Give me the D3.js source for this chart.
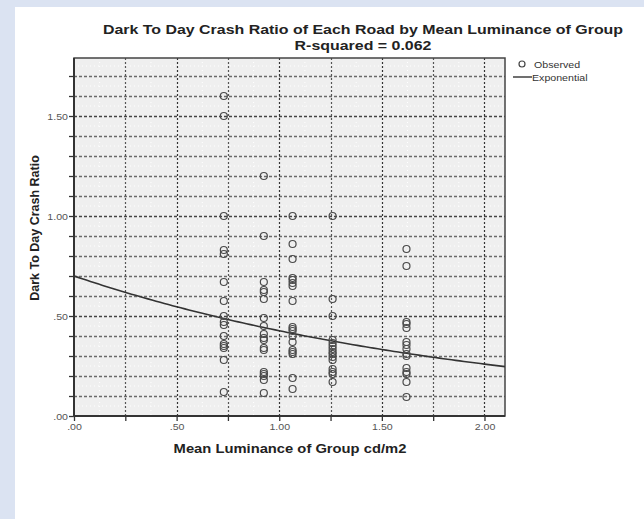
<!DOCTYPE html>
<html><head><meta charset="utf-8">
<script src="https://cdn.jsdelivr.net/npm/d3@7"></script>
<style>html,body{margin:0;padding:0;background:#dbe3f2;}svg{display:block;}</style>
</head><body>
<svg id="c" width="644" height="519"></svg>
<script>
// ---- data ----
const groupX = [0.73, 0.925, 1.065, 1.26, 1.62];
const ratioGroup1 = [1.60, 1.50, 1.00, 0.83, 0.81, 0.67, 0.575, 0.50, 0.47, 0.455, 0.40, 0.36, 0.35, 0.34, 0.28, 0.12];
const ratioGroup2 = [1.20, 0.90, 0.67, 0.63, 0.62, 0.585, 0.49, 0.45, 0.41, 0.39, 0.38, 0.34, 0.33, 0.22, 0.21, 0.20, 0.18, 0.115];
const ratioGroup3 = [1.00, 0.86, 0.785, 0.69, 0.68, 0.665, 0.65, 0.575, 0.445, 0.435, 0.425, 0.40, 0.37, 0.33, 0.32, 0.31, 0.19, 0.135];
const ratioGroup4 = [1.00, 0.585, 0.50, 0.38, 0.365, 0.35, 0.335, 0.32, 0.31, 0.295, 0.28, 0.235, 0.22, 0.21, 0.17];
const ratioGroup5 = [0.835, 0.75, 0.47, 0.46, 0.44, 0.37, 0.355, 0.335, 0.31, 0.30, 0.24, 0.22, 0.21, 0.17, 0.095];
const fitA = 0.70, fitB = -0.496; // exponential fit y = a*exp(b*x)
const xTickLabels = [".00", ".50", "1.00", "1.50", "2.00"];
const yTickLabels = [".00", ".50", "1.00", "1.50"];

const groups = [ratioGroup1, ratioGroup2, ratioGroup3, ratioGroup4, ratioGroup5];
const points = [];
groups.forEach((g, i) => g.forEach(v => points.push({x: groupX[i], y: v})));

const svg = d3.select("#c");
svg.append("rect").attr("x", 15).attr("y", 7).attr("width", 644 - 15).attr("height", 519 - 7).attr("fill", "#fff");

const L = 74, R = 505, T = 58, B = 416;
const x = d3.scaleLinear().domain([0, 2.1]).range([L, R]);
const y = d3.scaleLinear().domain([0, 1.79]).range([B, T]);
const font = "Arial, 'Liberation Sans', sans-serif";
const stretch = 1.18;
function widen(sel) {
  sel.each(function () {
    const w = this.getComputedTextLength();
    d3.select(this).attr("textLength", w * stretch).attr("lengthAdjust", "spacingAndGlyphs");
  });
}

// plot background
svg.append("rect").attr("x", L).attr("y", T).attr("width", R - L).attr("height", B - T).attr("fill", "#efefef");

// faint white dotted minor grid
const fineY = d3.range(0.05, 1.79, 0.1);
svg.append("g").selectAll("line").data(fineY).join("line")
  .attr("x1", L).attr("x2", R).attr("y1", d => y(d)).attr("y2", d => y(d))
  .attr("stroke", "#fff").attr("stroke-width", 1).attr("stroke-dasharray", "1,3");
const fineX = d3.range(0.125, 2.1, 0.25);
svg.append("g").selectAll("line").data(fineX).join("line")
  .attr("x1", d => x(d)).attr("x2", d => x(d)).attr("y1", T).attr("y2", B)
  .attr("stroke", "#fff").attr("stroke-width", 1).attr("stroke-dasharray", "1,3");

// horizontal gridlines every 0.1
const yGrid = d3.range(1, 18).map(i => i / 10);
svg.append("g").selectAll("line").data(yGrid).join("line")
  .attr("x1", L).attr("x2", R).attr("y1", d => Math.round(y(d)) + 0.5).attr("y2", d => Math.round(y(d)) + 0.5)
  .attr("stroke", d => (Math.abs(d * 2 - Math.round(d * 2)) < 1e-6) ? "#444" : "#6a6a6a")
  .attr("stroke-width", 1.3).attr("stroke-dasharray", "3,2");
// vertical gridlines every 0.25
const xGrid = d3.range(1, 9).map(i => i * 0.25);
svg.append("g").selectAll("line").data(xGrid).join("line")
  .attr("x1", d => Math.round(x(d)) + 0.5).attr("x2", d => Math.round(x(d)) + 0.5).attr("y1", T).attr("y2", B)
  .attr("stroke", d => (Math.abs(d * 2 - Math.round(d * 2)) < 1e-6) ? "#333" : "#555")
  .attr("stroke-width", 1.2).attr("stroke-dasharray", "2,2");

// axes
const yAxis = d3.axisLeft(y).tickValues(d3.range(0, 18).map(i => i / 10)).tickSize(5)
  .tickFormat(d => { const i = [0, 0.5, 1, 1.5].findIndex(v => Math.abs(v - d) < 1e-6); return i >= 0 ? yTickLabels[i] : ""; });
const gy = svg.append("g").attr("transform", `translate(${L},0)`).call(yAxis);
const xAxis = d3.axisBottom(x).tickValues(d3.range(0, 9).map(i => i * 0.25)).tickSize(5)
  .tickFormat(d => { const i = [0, 0.5, 1, 1.5, 2].findIndex(v => Math.abs(v - d) < 1e-6); return i >= 0 ? xTickLabels[i] : ""; });
const gx = svg.append("g").attr("transform", `translate(0,${B})`).call(xAxis);
[gx, gy].forEach(g => {
  g.select(".domain").remove();
  g.selectAll(".tick line").attr("stroke", "#333").attr("stroke-width", 1.3);
  g.selectAll(".tick text").attr("fill", "#555").attr("font-family", font).attr("font-size", 9);
});
gy.selectAll(".tick text").attr("x", -6).attr("dy", "0.35em");
gx.selectAll(".tick text").attr("y", 8).attr("dy", "0.71em");
widen(gx.selectAll(".tick text").filter(function () { return this.textContent !== ""; }));
widen(gy.selectAll(".tick text").filter(function () { return this.textContent !== ""; }));

// frame
svg.append("rect").attr("x", L).attr("y", T).attr("width", R - L).attr("height", B - T)
  .attr("fill", "none").attr("stroke", "#444").attr("stroke-width", 1.5);
svg.append("line").attr("x1", L).attr("x2", R).attr("y1", B).attr("y2", B).attr("stroke", "#333").attr("stroke-width", 2.2);
svg.append("line").attr("x1", L).attr("x2", L).attr("y1", T).attr("y2", B).attr("stroke", "#333").attr("stroke-width", 2);

// fit curve
const xs = d3.range(0, 2.1001, 0.02);
const line = d3.line().x(d => x(d)).y(d => y(fitA * Math.exp(fitB * d)));
svg.append("path").datum(xs).attr("d", line).attr("fill", "none").attr("stroke", "#333").attr("stroke-width", 1.6);

// points
svg.append("g").selectAll("circle").data(points).join("circle")
  .attr("cx", d => x(d.x)).attr("cy", d => y(d.y)).attr("r", 3.5)
  .attr("fill", "none").attr("stroke", "#4a4a4a").attr("stroke-width", 1.2);

// titles
const t1 = svg.append("text").attr("x", 363).attr("y", 34).attr("text-anchor", "middle")
  .attr("font-family", font).attr("font-weight", "bold").attr("font-size", 13.5).attr("fill", "#222")
  .text("Dark To Day Crash Ratio of Each Road by Mean Luminance of Group");
const t2 = svg.append("text").attr("x", 363).attr("y", 49.5).attr("text-anchor", "middle")
  .attr("font-family", font).attr("font-weight", "bold").attr("font-size", 13.5).attr("fill", "#222")
  .text("R-squared = 0.062");
widen(t1); widen(t2);

const xl = svg.append("text").attr("x", 290).attr("y", 453).attr("text-anchor", "middle")
  .attr("font-family", font).attr("font-weight", "bold").attr("font-size", 12.5).attr("fill", "#222")
  .text("Mean Luminance of Group cd/m2");
widen(xl);
svg.append("text").attr("transform", "translate(39,228) rotate(-90)").attr("text-anchor", "middle")
  .attr("font-family", font).attr("font-weight", "bold").attr("font-size", 12.5).attr("fill", "#222")
  .text("Dark To Day Crash Ratio");

// legend
const lg = svg.append("g");
lg.append("circle").attr("cx", 522).attr("cy", 64).attr("r", 3).attr("fill", "none").attr("stroke", "#444").attr("stroke-width", 1.2);
const l1 = lg.append("text").attr("x", 534).attr("y", 68).attr("font-family", font).attr("font-size", 9).attr("fill", "#333").text("Observed");
lg.append("line").attr("x1", 513).attr("x2", 532).attr("y1", 77).attr("y2", 77).attr("stroke", "#333").attr("stroke-width", 1.4);
const l2 = lg.append("text").attr("x", 532).attr("y", 80.5).attr("font-family", font).attr("font-size", 9).attr("fill", "#333").text("Exponential");
widen(l1); widen(l2);
</script>
</body></html>
